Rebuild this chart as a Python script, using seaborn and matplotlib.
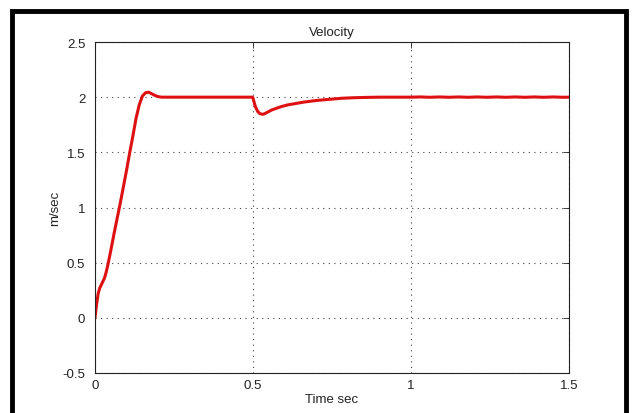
import matplotlib
matplotlib.use("Agg")
import matplotlib.pyplot as plt
import seaborn as sns
import pandas as pd
from matplotlib.patches import Rectangle

# Data
time_s = [0.0, 0.005, 0.01, 0.015, 0.02, 0.025, 0.03, 0.035, 0.04, 0.05, 0.06, 0.07, 0.08,
          0.09, 0.10, 0.11, 0.12, 0.13, 0.14, 0.15, 0.16, 0.17, 0.18, 0.19, 0.20,
          0.21, 0.23, 0.26, 0.30, 0.35, 0.40, 0.45, 0.48, 0.499, 0.503, 0.508,
          0.515, 0.522, 0.53, 0.535, 0.54, 0.55, 0.56, 0.575, 0.59, 0.61, 0.63,
          0.66, 0.70, 0.74, 0.78, 0.82, 0.86, 0.90, 0.95, 1.0, 1.03, 1.06, 1.09,
          1.12, 1.15, 1.18, 1.21, 1.24, 1.27, 1.30, 1.33, 1.36, 1.39, 1.42, 1.45,
          1.48, 1.5]
velocity = [0.0, 0.12, 0.22, 0.27, 0.30, 0.33, 0.36, 0.41, 0.47, 0.61, 0.76, 0.90, 1.04,
            1.19, 1.34, 1.50, 1.65, 1.81, 1.93, 2.01, 2.04, 2.045, 2.03, 2.015, 2.005,
            2.0, 2.0, 2.0, 2.0, 2.0, 2.0, 2.0, 2.0, 2.0, 1.96, 1.91,
            1.87, 1.85, 1.845, 1.848, 1.855, 1.87, 1.885, 1.90, 1.915, 1.93, 1.94,
            1.955, 1.97, 1.98, 1.99, 1.995, 1.998, 2.0, 2.0, 2.0, 2.002, 1.999, 2.002,
            1.999, 2.002, 1.999, 2.002, 1.999, 2.002, 1.999, 2.002, 1.999, 2.002, 1.999, 2.002,
            1.999, 2.0]
x_ticks = [0, 0.5, 1, 1.5]
x_tick_labels = ["0", "0.5", "1", "1.5"]
y_ticks = [-0.5, 0, 0.5, 1, 1.5, 2, 2.5]
y_tick_labels = ["-0.5", "0", "0.5", "1", "1.5", "2", "2.5"]

df = pd.DataFrame({"Time sec": time_s, "m/sec": velocity})

sns.set_style("white")
plt.rcParams["font.family"] = ["Liberation Sans", "DejaVu Sans"]

fig = plt.figure(figsize=(6.32, 4.14), dpi=100)
ax = fig.add_axes([95 / 632, 40 / 414, 474 / 632, 331 / 414])

sns.lineplot(data=df, x="Time sec", y="m/sec", ax=ax, color="#dd1111", linewidth=2.2)

ax.set_xlim(0, 1.5)
ax.set_ylim(-0.5, 2.5)
ax.set_xticks(x_ticks)
ax.set_xticklabels(x_tick_labels)
ax.set_yticks(y_ticks)
ax.set_yticklabels(y_tick_labels)
ax.grid(True, linestyle=(0, (1, 4)), color="#444444", linewidth=0.8)
ax.tick_params(direction="in", length=4, width=0.6, labelsize=9.5, colors="#222222",
               top=True, right=True)
ax.tick_params(axis="y", pad=7)
ax.tick_params(axis="x", pad=4)
for s in ax.spines.values():
    s.set_visible(True)
    s.set_color("#222222")
    s.set_linewidth(0.8)

ax.set_title("Velocity", fontsize=9.5, color="#222222", pad=5)
ax.set_xlabel("Time sec", fontsize=9.5, color="#222222", labelpad=2)
ax.set_ylabel("m/sec", fontsize=9.5, color="#222222", labelpad=1)

# black frame around the figure
frame = Rectangle((12 / 632, -0.05), 614 / 632, 1.05 - 12 / 414,
                  transform=fig.transFigure, fill=False, edgecolor="black",
                  linewidth=3.5, clip_on=False)
fig.patches.append(frame)

fig.savefig("out.png", dpi=100)
